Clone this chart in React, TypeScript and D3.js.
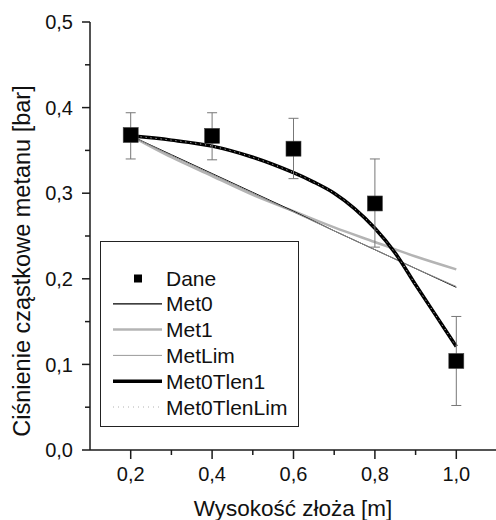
import React, { useEffect, useRef } from 'react';
import * as d3 from 'd3';

// measured data points (Dane) with error bars
const daneX = [0.2, 0.4, 0.6, 0.8, 1.0];
const daneY = [0.368, 0.367, 0.352, 0.288, 0.104];
const daneLo = [0.340, 0.339, 0.317, 0.237, 0.052];
const daneHi = [0.394, 0.394, 0.3875, 0.340, 0.156];

// model curves
const modelX = [0.2, 0.3, 0.4, 0.5, 0.6, 0.7, 0.8, 0.9, 1.0];
const met0 = [0.367, 0.345, 0.323, 0.301, 0.279, 0.256, 0.234, 0.212, 0.190];
const met1 = [0.367, 0.342, 0.320, 0.298, 0.279, 0.260, 0.243, 0.226, 0.211];
const metLim = [0.367, 0.344, 0.322, 0.300, 0.278, 0.256, 0.234, 0.212, 0.191];

const tlenX = [0.2, 0.3, 0.4, 0.5, 0.6, 0.65, 0.7, 0.75, 0.8, 0.85, 0.9, 0.95, 1.0];
const met0Tlen1 = [0.367, 0.362, 0.355, 0.342, 0.324, 0.313, 0.300, 0.282, 0.259, 0.230, 0.193, 0.157, 0.121];
const met0TlenLim = [0.367, 0.362, 0.355, 0.342, 0.324, 0.313, 0.300, 0.282, 0.259, 0.230, 0.193, 0.157, 0.121];

const xTicks = [0.2, 0.4, 0.6, 0.8, 1.0];
const xMinor = [0.3, 0.5, 0.7, 0.9];
const yTicks = [0.0, 0.1, 0.2, 0.3, 0.4, 0.5];
const yMinor = [0.05, 0.15, 0.25, 0.35, 0.45];

const legendNames = ['Dane', 'Met0', 'Met1', 'MetLim', 'Met0Tlen1', 'Met0TlenLim'];

const FONT = '"Liberation Sans", Arial, sans-serif';

function Chart() {
  const svgRef = useRef(null);

  useEffect(() => {
    if (!svgRef.current) return;
    const svg = d3.select(svgRef.current);
    svg.selectAll('*').remove();

    const x = d3.scaleLinear().domain([0.1, 1.1]).range([90, 497]);
    const y = d3.scaleLinear().domain([0, 0.5]).range([450, 22]);
    const fmt = (v) => d3.format('.1f')(v).replace('.', ',');

    // axes
    const axis = svg.append('g').attr('stroke', '#1a1a1a').attr('stroke-width', 1.5);
    axis.append('line').attr('x1', x(0.1)).attr('x2', x(1.1)).attr('y1', y(0)).attr('y2', y(0));
    axis.append('line').attr('x1', x(0.1)).attr('x2', x(0.1)).attr('y1', y(0)).attr('y2', y(0.5));

    xTicks.forEach(t => axis.append('line').attr('x1', x(t)).attr('x2', x(t)).attr('y1', y(0)).attr('y2', y(0) + 9));
    xMinor.forEach(t => axis.append('line').attr('x1', x(t)).attr('x2', x(t)).attr('y1', y(0)).attr('y2', y(0) + 5));
    yTicks.forEach(t => axis.append('line').attr('x1', x(0.1) - 8).attr('x2', x(0.1)).attr('y1', y(t)).attr('y2', y(t)));
    yMinor.forEach(t => axis.append('line').attr('x1', x(0.1) - 5).attr('x2', x(0.1)).attr('y1', y(t)).attr('y2', y(t)));

    svg.append('g').selectAll('text').data(xTicks).join('text')
      .attr('x', d => x(d)).attr('y', 481)
      .attr('text-anchor', 'middle')
      .attr('font-family', FONT).attr('font-size', 20).attr('fill', '#111')
      .text(d => fmt(d));

    svg.append('g').selectAll('text').data(yTicks).join('text')
      .attr('x', 73).attr('y', d => y(d)).attr('dy', '0.36em')
      .attr('text-anchor', 'end')
      .attr('font-family', FONT).attr('font-size', 20).attr('fill', '#111')
      .text(d => fmt(d));

    svg.append('text')
      .attr('x', 293).attr('y', 516)
      .attr('text-anchor', 'middle')
      .attr('font-family', FONT).attr('font-size', 22.5).attr('fill', '#111')
      .text('Wysokość złoża [m]');

    svg.append('text')
      .attr('transform', 'translate(30,261) rotate(-90)')
      .attr('text-anchor', 'middle')
      .attr('font-family', FONT).attr('font-size', 23.5).attr('fill', '#111')
      .text('Ciśnienie cząstkowe metanu [bar]');

    // model lines
    const line = d3.line().x(d => x(d[0])).y(d => y(d[1]));
    const curved = d3.line().x(d => x(d[0])).y(d => y(d[1])).curve(d3.curveCatmullRom);
    const zipM = (vals) => modelX.map((v, i) => [v, vals[i]]);
    const zipT = (vals) => tlenX.map((v, i) => [v, vals[i]]);

    svg.append('path').datum(zipM(met1)).attr('d', curved)
      .attr('fill', 'none').attr('stroke', '#b4b4b4').attr('stroke-width', 2.5);
    svg.append('path').datum(zipM(met0)).attr('d', line)
      .attr('fill', 'none').attr('stroke', '#111').attr('stroke-width', 1);
    svg.append('path').datum(zipM(metLim)).attr('d', line)
      .attr('fill', 'none').attr('stroke', '#8a8a8a').attr('stroke-width', 1);
    svg.append('path').datum(zipT(met0Tlen1)).attr('d', curved)
      .attr('fill', 'none').attr('stroke', '#000').attr('stroke-width', 3.5);
    svg.append('path').datum(zipT(met0TlenLim)).attr('d', curved)
      .attr('fill', 'none').attr('stroke', '#cfcfcf').attr('stroke-width', 1)
      .attr('stroke-dasharray', '1,4');

    // error bars
    const eb = svg.append('g').attr('stroke', '#777').attr('stroke-width', 1);
    daneX.forEach((xv, i) => {
      eb.append('line').attr('x1', x(xv)).attr('x2', x(xv)).attr('y1', y(daneLo[i])).attr('y2', y(daneHi[i]));
      eb.append('line').attr('x1', x(xv) - 5).attr('x2', x(xv) + 5).attr('y1', y(daneLo[i])).attr('y2', y(daneLo[i]));
      eb.append('line').attr('x1', x(xv) - 5).attr('x2', x(xv) + 5).attr('y1', y(daneHi[i])).attr('y2', y(daneHi[i]));
    });

    // markers
    svg.append('g').selectAll('rect').data(daneX).join('rect')
      .attr('x', d => x(d) - 7.5).attr('y', (d, i) => y(daneY[i]) - 7.5)
      .attr('width', 15).attr('height', 15)
      .attr('fill', '#000').attr('stroke', '#444').attr('stroke-width', 0.6);

    // legend
    const lg = svg.append('g');
    lg.append('rect').attr('x', 100.5).attr('y', 241.5).attr('width', 198).attr('height', 185)
      .attr('fill', '#fff').attr('stroke', '#222').attr('stroke-width', 1);
    const rowY = (i) => 278 + i * 25.8;
    const styles = [
      null,
      { stroke: '#000', w: 1.2, dash: null },
      { stroke: '#b4b4b4', w: 2.5, dash: null },
      { stroke: '#9a9a9a', w: 1, dash: null },
      { stroke: '#000', w: 3.5, dash: null },
      { stroke: '#b0b0b0', w: 1, dash: '1,4' },
    ];
    legendNames.forEach((name, i) => {
      const cy = rowY(i);
      if (i === 0) {
        lg.append('rect').attr('x', 134).attr('y', cy - 3.5).attr('width', 8).attr('height', 8).attr('fill', '#000');
      } else {
        const s = styles[i];
        lg.append('line').attr('x1', 113).attr('x2', 162).attr('y1', cy).attr('y2', cy)
          .attr('stroke', s.stroke).attr('stroke-width', s.w)
          .attr('stroke-dasharray', s.dash);
      }
      lg.append('text').attr('x', 166).attr('y', cy).attr('dy', '0.36em')
        .attr('font-family', FONT).attr('font-size', 21).attr('fill', '#111')
        .text(name);
    });
  }, []);

  return <svg ref={svgRef} width={496} height={520} style={{ position: 'absolute', left: 0, top: 0, background: '#fff' }} />;
}

export default function App() {
  return <Chart />;
}
